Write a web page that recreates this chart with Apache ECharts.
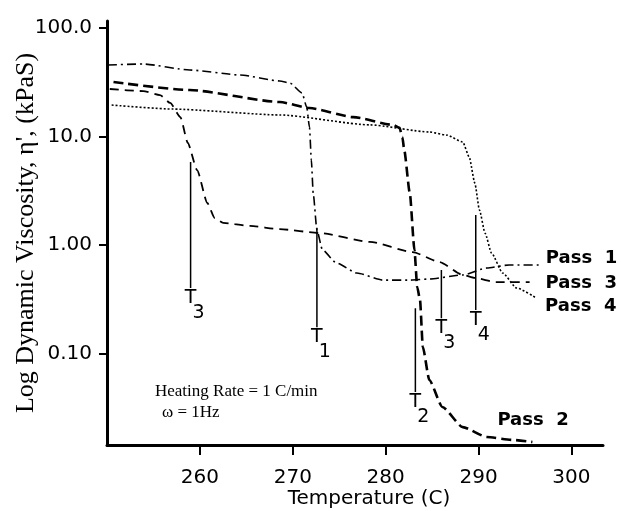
<!DOCTYPE html>
<html>
<head>
<meta charset="utf-8">
<script src="https://cdn.jsdelivr.net/npm/echarts@6/dist/echarts.min.js"></script>
<style>
  html, body { margin: 0; padding: 0; background: #fff; }
  #chart { width: 621px; height: 511px; }
</style>
</head>
<body>
<div id="chart"></div>
<script>
// values: temperature (C) and viscosity (kPaS)
var pass1Temp = [250.1, 253.9, 258.9, 264.3, 268.6, 269.7, 271.0, 271.5, 271.8, 272.0, 272.2, 272.6, 273.2, 274.7, 276.9, 279.7, 282.6, 284.7, 288.3, 290.9, 293.3, 296.6];
var pass1Visc = [45.6, 46.6, 41.0, 36.9, 32.5, 31.1, 25.2, 18.7, 12.2, 6.07, 3.01, 1.37, 0.90, 0.683, 0.552, 0.475, 0.475, 0.486, 0.530, 0.614, 0.655, 0.655];

var pass2Temp = [250.7, 258.9, 268.6, 271.8, 276.5, 280.8, 281.5, 281.8, 282.0, 282.6, 283.1, 283.4, 283.7, 284.0, 284.7, 286.1, 288.3, 290.9, 293.7, 295.8];
var pass2Visc = [31.8, 26.8, 20.8, 18.3, 15.1, 12.8, 12.0, 9.89, 7.51, 3.01, 0.90, 0.410, 0.311, 0.115, 0.0570, 0.0322, 0.0210, 0.0170, 0.0160, 0.0153];

var pass3Temp = [250.3, 253.9, 255.7, 256.8, 257.9, 258.7, 259.7, 260.8, 261.6, 262.5, 265.4, 268.6, 272.9, 278.3, 282.9, 285.8, 288.3, 289.6, 291.9, 295.5];
var pass3Visc = [27.4, 26.2, 24.1, 20.4, 15.1, 8.71, 4.91, 2.44, 1.77, 1.60, 1.50, 1.40, 1.29, 1.07, 0.861, 0.697, 0.530, 0.497, 0.456, 0.456];

var pass4Temp = [250.5, 257.1, 268.6, 278.3, 284.7, 286.6, 288.3, 289.0, 289.6, 290.1, 290.7, 291.4, 292.6, 294.1, 296.2];
var pass4Visc = [19.5, 17.9, 15.8, 12.8, 11.0, 10.3, 8.89, 6.47, 3.72, 2.10, 1.29, 0.843, 0.552, 0.402, 0.325];

// transition markers T1..T4
var markerTemp = [259.0, 272.6, 283.2, 286.0, 289.7];
var markerTop = [5.82, 1.44, 0.262, 0.589, 1.89];
var markerBottom = [0.402, 0.175, 0.0442, 0.212, 0.252];
var markerSub = ['3', '1', '2', '3', '4'];

var xTicks = [260, 270, 280, 290, 300];
var yTicks = [0.1, 1, 10, 100];
var yTickLabels = ['0.10', '1.00', '10.0', '100.0'];

function pairs(t, v) {
    return t.map(function (x, i) { return [x, v[i]]; });
}

var sansFont = 'DejaVu Sans';
var serifFont = 'Liberation Serif';

var chart = echarts.init(document.getElementById('chart'));

function passSeries(name, t, v, width, dash, label, offset) {
    return {
        name: name,
        type: 'line',
        data: pairs(t, v),
        symbol: 'none',
        smooth: 0.2,
        smoothMonotone: 'x',
        silent: true,
        lineStyle: { color: '#000', width: width, type: dash },
        endLabel: {
            show: true,
            formatter: label,
            distance: 0,
            offset: offset,
            color: '#000',
            fontFamily: sansFont,
            fontWeight: 'bold',
            fontSize: 18
        }
    };
}

var series = [
    passSeries('Pass 1', pass1Temp, pass1Visc, 1.6, [9, 4, 2, 4], 'Pass  1', [6, -7]),
    passSeries('Pass 2', pass2Temp, pass2Visc, 2.6, [10, 5], 'Pass  2', [-35, -22]),
    passSeries('Pass 3', pass3Temp, pass3Visc, 1.8, [9, 6], 'Pass  3', [16, 1]),
    passSeries('Pass 4', pass4Temp, pass4Visc, 1.6, [2, 2], 'Pass  4', [9, 8])
];

for (var i = 0; i < markerTemp.length; i++) {
    series.push({
        type: 'line',
        data: [[markerTemp[i], markerTop[i]], [markerTemp[i], markerBottom[i]]],
        symbol: 'none',
        silent: true,
        lineStyle: { color: '#000', width: 1.5 }
    });
}

option = {
    backgroundColor: '#fff',
    animation: false,
    grid: {
        left: 107,
        right: 18,
        top: 21,
        bottom: 66,
        containLabel: false,
        outerBoundsMode: 'none'
    },
    xAxis: {
        type: 'value',
        min: 250,
        max: 303.4,
        name: 'Temperature (C)',
        nameLocation: 'middle',
        nameGap: 44,
        nameMoveOverlap: false,
        nameTextStyle: { color: '#000', fontFamily: sansFont, fontSize: 20, padding: [0, 0, 0, 28] },
        axisLine: { lineStyle: { color: '#000', width: 3 } },
        axisTick: { customValues: xTicks, length: 10, lineStyle: { color: '#000', width: 2 } },
        axisLabel: {
            customValues: xTicks,
            margin: 23,
            color: '#000',
            fontFamily: sansFont,
            fontSize: 20
        },
        splitLine: { show: false }
    },
    yAxis: {
        type: 'log',
        logBase: 10,
        min: 0.01436,
        max: 116,
        name: "Log Dynamic Viscosity, η', (kPaS)",
        nameLocation: 'middle',
        nameGap: 68,
        nameMoveOverlap: false,
        nameTextStyle: { color: '#000', fontFamily: serifFont, fontSize: 26 },
        axisLine: { lineStyle: { color: '#000', width: 3 } },
        axisTick: { customValues: yTicks, length: 8, lineStyle: { color: '#000', width: 2 } },
        axisLabel: {
            customValues: yTicks,
            margin: 15,
            color: '#000',
            fontFamily: sansFont,
            fontSize: 20,
            formatter: function (val) {
                for (var k = 0; k < yTicks.length; k++) {
                    if (Math.abs(Math.log10(val) - Math.log10(yTicks[k])) < 1e-6) return yTickLabels[k];
                }
                return '';
            }
        },
        splitLine: { show: false }
    },
    series: series
};

chart.setOption(option);

// T labels under each marker line, placed through the chart's own scales
var graphics = [];
for (var j = 0; j < markerTemp.length; j++) {
    var p = chart.convertToPixel({ gridIndex: 0 }, [markerTemp[j], markerBottom[j]]);
    graphics.push({
        type: 'text', x: p[0], y: p[1] + 10,
        style: { text: 'T', fill: '#000', fontFamily: sansFont, fontSize: 19, align: 'center', verticalAlign: 'middle' }
    });
    graphics.push({
        type: 'text', x: p[0] + 8, y: p[1] + 25,
        style: { text: markerSub[j], fill: '#000', fontFamily: sansFont, fontSize: 19, align: 'center', verticalAlign: 'middle' }
    });
}
graphics.push({
    type: 'text', x: 155, y: 392,
    style: { text: 'Heating Rate = 1 C/min', fill: '#000', fontFamily: serifFont, fontSize: 17, verticalAlign: 'middle' }
});
graphics.push({
    type: 'text', x: 162, y: 413,
    style: { text: 'ω = 1Hz', fill: '#000', fontFamily: serifFont, fontSize: 17, verticalAlign: 'middle' }
});
chart.setOption({ graphic: graphics });
</script>
</body>
</html>
